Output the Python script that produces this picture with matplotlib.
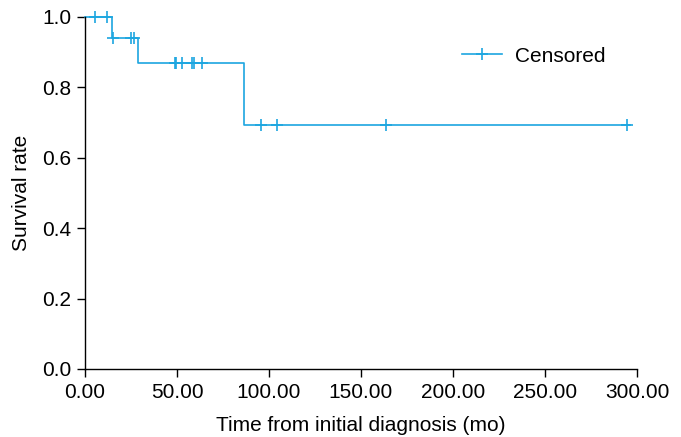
import matplotlib
matplotlib.use("Agg")
import matplotlib.pyplot as plt
import numpy as np

plt.rcParams['font.family'] = ['Liberation Sans', 'DejaVu Sans']

# Kaplan-Meier step data
step_times = [0.0, 14.5, 28.7, 86.3, 296.0]
step_surv = [1.0, 0.94, 0.868, 0.694, 0.694]

# Censored observations
censor_times = [5.7, 12.2, 15.1, 25.1, 26.5, 48.8, 49.2, 52.8, 57.9, 59.4, 63.5,
                95.4, 104.5, 163.4, 294.7]
censor_surv = [1.0, 1.0, 0.94, 0.94, 0.94, 0.868, 0.868, 0.868, 0.868, 0.868, 0.868,
               0.694, 0.694, 0.694, 0.694]

x_ticks = [0, 50, 100, 150, 200, 250, 300]
x_ticklabels = ['0.00', '50.00', '100.00', '150.00', '200.00', '250.00', '300.00']
y_ticks = [0.0, 0.2, 0.4, 0.6, 0.8, 1.0]
y_ticklabels = ['0.0', '0.2', '0.4', '0.6', '0.8', '1.0']

color = '#1ca6e0'
fs = 15

fig = plt.figure(figsize=(6.81, 4.37), dpi=100)
ax = fig.add_axes([85/681, 1-369/437, (637-85)/681, (369-17)/437])

ax.step(step_times, step_surv, where='post', color=color, lw=1.2, clip_on=False)
ax.plot(censor_times, censor_surv, linestyle='none', marker='+', color=color,
        markersize=8, markeredgewidth=1.2, clip_on=False)
# legend handle
ax.plot([], [], color=color, lw=1.2, marker='+', markersize=8, markeredgewidth=1.2,
        label='Censored')

ax.set_xlim(0, 300)
ax.set_ylim(0, 1.0)
ax.set_xticks(x_ticks)
ax.set_xticklabels(x_ticklabels)
ax.set_yticks(y_ticks)
ax.set_yticklabels(y_ticklabels)
for s in ['top', 'right']:
    ax.spines[s].set_visible(False)
for s in ['left', 'bottom']:
    ax.spines[s].set_linewidth(1.0)
    ax.spines[s].set_color('black')
ax.tick_params(direction='out', length=6, width=1.0, labelsize=fs, colors='black', pad=4)
ax.set_xlabel('Time from initial diagnosis (mo)', fontsize=fs, labelpad=10)
ax.set_ylabel('Survival rate', fontsize=fs, labelpad=8)

leg = ax.legend(loc='center left', bbox_to_anchor=(462/681, 1-56/437),
                bbox_transform=fig.transFigure, frameon=False, borderpad=0,
                borderaxespad=0, fontsize=fs, handlelength=1.9, handletextpad=0.65)

fig.savefig('out.png', dpi=100)
